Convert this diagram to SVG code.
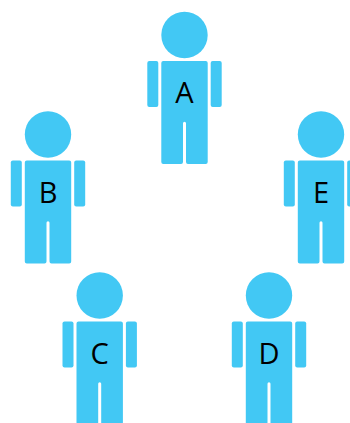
<svg xmlns="http://www.w3.org/2000/svg" width="350" height="423" viewBox="0 0 350 423">
<defs>
<style>
.p{fill:#42C8F4}
.lbl{font-family:"Open Sans","Noto Sans",sans-serif;font-size:29px;fill:#000;text-anchor:middle}
</style>
<g id="person">
<circle class="p" cx="0" cy="0" r="23.2"/>
<path class="p" d="M -21.2 26 H 21.2 Q 23.2 26 23.2 28 V 127 Q 23.2 129 21.2 129 H 3.5 Q 1.5 129 1.5 127 V 88.2 Q 1.5 86.7 0 86.7 Q -1.5 86.7 -1.5 88.2 V 127 Q -1.5 129 -3.5 129 H -21.2 Q -23.2 129 -23.2 127 V 28 Q -23.2 26 -21.2 26 Z"/>
<rect class="p" x="-37.2" y="26" width="11" height="46" rx="2"/>
<rect class="p" x="26.2" y="26" width="11" height="46" rx="2"/>
</g>
</defs>
<rect width="350" height="423" fill="#fff"/>
<g id="connectors"/>
<g id="node-A"><use href="#person" x="184.5" y="35"/><text class="lbl" x="184.5" y="103">A</text></g>
<g id="node-B"><use href="#person" x="48" y="134.5"/><text class="lbl" x="48" y="202.5">B</text></g>
<g id="node-E"><use href="#person" x="321" y="134.5"/><text class="lbl" x="321" y="202.5">E</text></g>
<g id="node-C"><use href="#person" x="99.7" y="295.5"/><text class="lbl" x="99.7" y="363.5">C</text></g>
<g id="node-D"><use href="#person" x="269" y="295.5"/><text class="lbl" x="269" y="363.5">D</text></g>
</svg>
